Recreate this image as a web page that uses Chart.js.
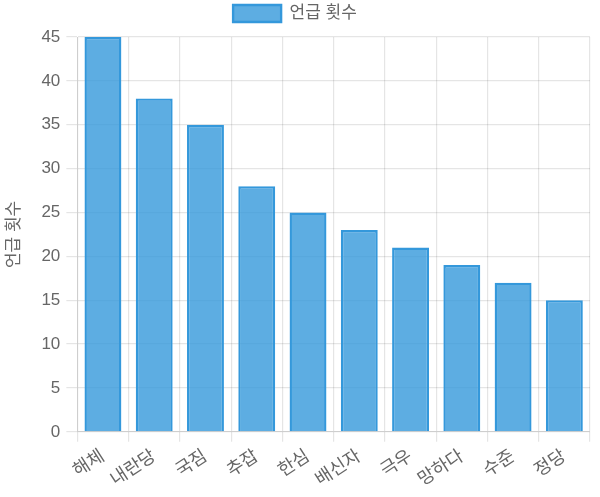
<!DOCTYPE html>
<html>
<head>
<meta charset="utf-8">
<script src="https://cdn.jsdelivr.net/npm/chart.js@4"></script>
<style>
  html, body { margin: 0; padding: 0; background: #fff; }
  #wrap { width: 600px; height: 497px; }
</style>
</head>
<body>
<div id="wrap"><canvas id="grafico"></canvas></div>
<script>
// 단어별 언급 횟수
var palavras = ['해체', '내란당', '국짐', '추잡', '한심', '배신자', '극우', '망하다', '수준', '정당'];
var contagens = [45, 38, 35, 28, 25, 23, 21, 19, 17, 15];
var rotuloSerie = '언급 횟수';

// espaço extra abaixo da legenda
var espacoLegenda = {
    id: 'espacoLegenda',
    beforeInit: function(chart) {
        var legenda = chart.legend;
        if (!legenda) return;
        var fitOriginal = legenda.fit;
        legenda.fit = function() {
            fitOriginal.call(this);
            this.height += 5;
        };
    }
};

window.onload = function() {
    Chart.defaults.font.family = "'Liberation Sans', Arial, 'Noto Sans CJK KR', sans-serif";
    Chart.defaults.font.size = 17;
    Chart.defaults.color = '#666';

    var ctx = document.getElementById('grafico').getContext('2d');
    window.myBar = new Chart(ctx, {
        type: 'bar',
        data: {
            labels: palavras,
            datasets: [{
                label: rotuloSerie,
                data: contagens,
                backgroundColor: 'rgba(52, 152, 219, 0.8)',
                borderColor: '#3498db',
                borderWidth: 2.4
            }]
        },
        plugins: [espacoLegenda],
        options: {
            responsive: true,
            maintainAspectRatio: false,
            animation: false,
            layout: { padding: { right: 10, bottom: 2 } },
            plugins: {
                legend: {
                    position: 'top',
                    labels: { boxWidth: 48, boxHeight: 17, padding: 5 }
                }
            },
            scales: {
                x: {
                    grid: { tickLength: 10, lineWidth: 1.2 },
                    ticks: { maxRotation: 33, minRotation: 33, padding: 4, font: { size: 18 } }
                },
                y: {
                    beginAtZero: true,
                    max: 45,
                    grid: { tickLength: 11, lineWidth: 1.2 },
                    ticks: { stepSize: 5, padding: 6 },
                    title: { display: true, text: rotuloSerie, padding: { top: 4, bottom: 11 } }
                }
            }
        }
    });
}
</script>
</body>
</html>
